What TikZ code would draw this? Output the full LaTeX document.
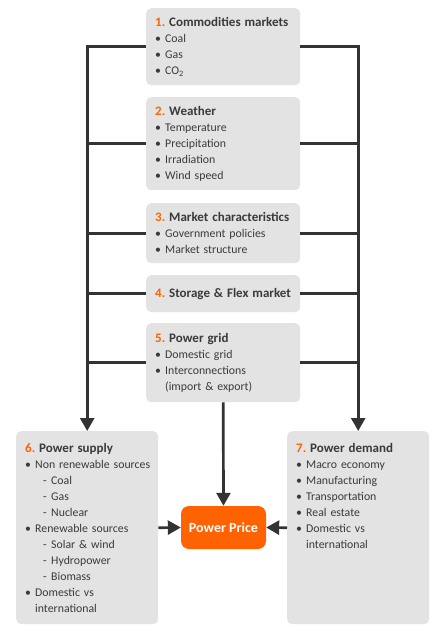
\documentclass[tikz,border=0pt]{standalone}
\usepackage{fontspec}
\setmainfont{Carlito}
\usetikzlibrary{arrows.meta}

\definecolor{ingorange}{HTML}{FF6200}
\definecolor{panelgray}{HTML}{E3E3E3}
\definecolor{linkgray}{HTML}{333333}
\definecolor{textgray}{HTML}{3A3A3A}

\newcommand{\heading}[2]{{\fontsize{13}{16}\selectfont\bfseries\textcolor{ingorange}{#1.}~#2}}
\newcommand{\bul}[1]{\par\makebox[10pt][l]{\textbullet}\mbox{#1}}
\newcommand{\dsh}[1]{\par\hspace*{18pt}\makebox[8pt][l]{-}#1}
\newcommand{\cont}{\par\hspace*{10pt}}

\tikzset{
    panel/.style={fill=panelgray, rounded corners=5pt, anchor=north west,
        text width=#1, inner xsep=9pt, inner ysep=6pt, align=left,
        text=textgray, font=\fontsize{11.8}{16}\selectfont},
    price/.style={fill=ingorange, rounded corners=8pt, minimum width=85pt,
        minimum height=43pt, text=white, font=\fontsize{14}{16}\selectfont\bfseries},
    link/.style={draw=linkgray, line width=2.7pt},
    tip/.style={-{Triangle[width=14pt,length=13pt]}}
}

\begin{document}
\begin{tikzpicture}[x=1pt,y=-1pt]
    \useasboundingbox (0,0) rectangle (442,636);

    \node[panel=136pt, minimum height=77pt] (cm) at (146,8)
        {\heading{1}{Commodities markets}\bul{Coal}\bul{Gas}\bul{CO\textsubscript{2}}};
    \node[panel=136pt, minimum height=93pt] (wt) at (146,97)
        {\heading{2}{Weather}\bul{Temperature}\bul{Precipitation}\bul{Irradiation}\bul{Wind speed}};
    \node[panel=136pt, minimum height=60pt] (mc) at (146,203)
        {\heading{3}{Market characteristics}\bul{Government policies}\bul{Market structure}};
    \node[panel=136pt, minimum height=37pt] (sf) at (146,275)
        {\heading{4}{Storage \& Flex market}};
    \node[panel=136pt, minimum height=79pt] (pg) at (146,323)
        {\heading{5}{Power grid}\bul{Domestic grid}\bul{Interconnections}\cont(import \& export)};

    \node[panel=124pt, minimum height=193pt] (ps) at (16,431)
        {\heading{6}{Power supply}\bul{Non renewable sources}\dsh{Coal}\dsh{Gas}\dsh{Nuclear}%
         \bul{Renewable sources}\dsh{Solar \& wind}\dsh{Hydropower}\dsh{Biomass}%
         \bul{Domestic vs}\cont international};
    \node[panel=124pt, minimum height=193pt] (pd) at (287,431)
        {\heading{7}{Power demand}\bul{Macro economy}\bul{Manufacturing}\bul{Transportation}%
         \bul{Real estate}\bul{Domestic vs}\cont international\par\vspace{64pt}};

    \node[price] (pp) at (223.5,527.5) {Power Price};

    \draw[link,tip] (cm.west) -| (ps.north);
    \draw[link,tip] (cm.east) -| (pd.north);
    \foreach \n in {wt,mc,sf,pg} {
        \draw[link] (\n.west) -- (\n.west -| ps.north);
        \draw[link] (\n.east) -- (\n.east -| pd.north);
    }
    \draw[link,tip] (pg.south) -- (pp.north);
    \draw[link,tip] (ps.east) -- (pp.west);
    \draw[link,tip] (pd.west) -- (pp.east);
\end{tikzpicture}
\end{document}
